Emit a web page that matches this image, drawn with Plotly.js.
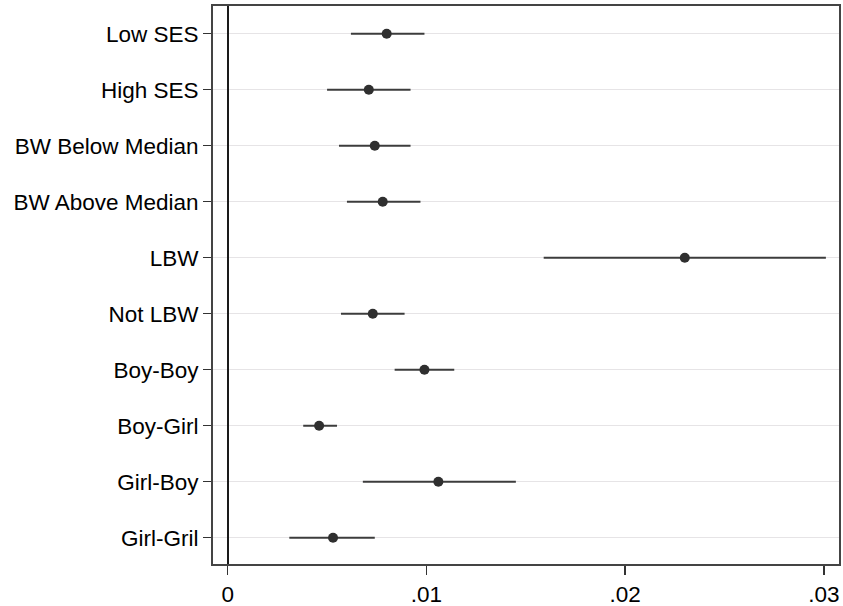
<!DOCTYPE html>
<html>
<head>
<meta charset="utf-8">
<script src="https://cdn.plot.ly/plotly-3.0.1.min.js"></script>
<style>html,body{margin:0;padding:0;background:#fff;}#chart{width:843px;height:606px;}</style>
</head>
<body>
<div id="chart"></div>
<script>
const categories = ["Low SES", "High SES", "BW Below Median", "BW Above Median", "LBW", "Not LBW", "Boy-Boy", "Boy-Girl", "Girl-Boy", "Girl-Gril"];
const estimates = [0.0080, 0.0071, 0.0074, 0.0078, 0.0230, 0.0073, 0.0099, 0.0046, 0.0106, 0.0053];
const lower     = [0.0062, 0.0050, 0.0056, 0.0060, 0.0159, 0.0057, 0.0084, 0.0038, 0.0068, 0.0031];
const upper     = [0.0099, 0.0092, 0.0092, 0.0097, 0.0301, 0.0089, 0.0114, 0.0055, 0.0145, 0.0074];
const xTickVals = [0, 0.01, 0.02, 0.03];
const xTickText = ["0", ".01", ".02", ".03"];

const idx = categories.map((c, i) => i);
const trace = {
  type: "scatter",
  mode: "markers",
  x: estimates,
  y: idx,
  marker: {color: "#2f2f2f", size: 10},
  error_x: {
    type: "data",
    symmetric: false,
    array: estimates.map((e, i) => upper[i] - e),
    arrayminus: estimates.map((e, i) => e - lower[i]),
    color: "#3c3c3c",
    thickness: 2,
    width: 0
  },
  hoverinfo: "x+y",
  showlegend: false
};

const layout = {
  width: 843,
  height: 606,
  margin: {l: 213, r: 4, t: 6, b: 42},
  paper_bgcolor: "#ffffff",
  plot_bgcolor: "#ffffff",
  font: {family: "Liberation Sans, Arial, sans-serif", size: 22.5, color: "#000"},
  xaxis: {
    range: [-0.00074, 0.03076],
    tickvals: xTickVals,
    ticktext: xTickText,
    ticks: "outside",
    ticklen: 9,
    tickwidth: 1.5,
    tickcolor: "#333",
    showgrid: false,
    zeroline: true,
    zerolinecolor: "#1a1a1a",
    zerolinewidth: 2,
    showline: true,
    linecolor: "#444",
    linewidth: 2,
    mirror: true,
    tickfont: {size: 22.5}
  },
  yaxis: {
    range: [9.47, -0.495],
    tickvals: idx,
    ticktext: categories,
    ticks: "outside",
    ticklen: 8,
    tickwidth: 1.5,
    tickcolor: "#333",
    showgrid: true,
    gridcolor: "#e6e4e6",
    gridwidth: 1.5,
    zeroline: false,
    showline: true,
    linecolor: "#444",
    linewidth: 2,
    mirror: true,
    tickfont: {size: 22.5}
  }
};

Plotly.newPlot("chart", [trace], layout, {displayModeBar: false, staticPlot: true});
</script>
</body>
</html>
